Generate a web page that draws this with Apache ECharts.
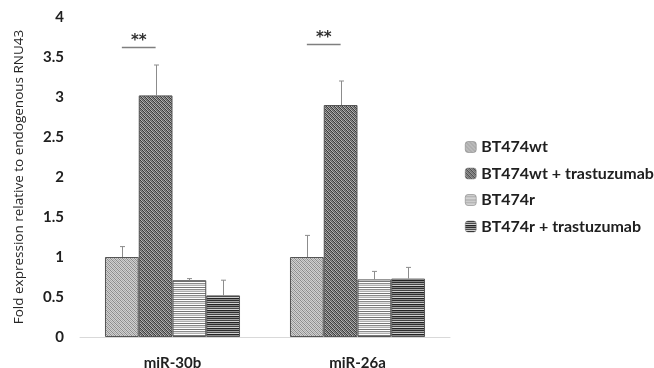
<!DOCTYPE html>
<html>
<head>
<meta charset="utf-8">
<script src="https://cdn.jsdelivr.net/npm/echarts@6/dist/echarts.min.js"></script>
<style>html,body{margin:0;padding:0;background:#fff}#c{width:654px;height:368px}</style>
</head>
<body>
<div id="c"></div>
<script>
const categories = ['miR-30b', 'miR-26a'];
const seriesNames = ['BT474wt', 'BT474wt + trastuzumab', 'BT474r', 'BT474r + trastuzumab'];
const means = [
  [1.00, 1.00],
  [3.02, 2.90],
  [0.71, 0.72],
  [0.52, 0.73]
];
const errors = [
  [0.13, 0.27],
  [0.38, 0.30],
  [0.02, 0.10],
  [0.19, 0.14]
];
const yTicks = [0, 0.5, 1, 1.5, 2, 2.5, 3, 3.5, 4];
const sigMarks = [
  { cat: 0, from: 0, to: 1, y: 3.63, text: '**' },
  { cat: 1, from: 0, to: 1, y: 3.66, text: '**' }
];

function makePattern(w, h, draw) {
  const c = document.createElement('canvas');
  c.width = w; c.height = h;
  const ctx = c.getContext('2d');
  draw(ctx);
  return { image: c, repeat: 'repeat' };
}
const patterns = [
  makePattern(4, 4, ctx => {
    ctx.fillStyle = '#d0d0d0'; ctx.fillRect(0, 0, 4, 4);
    ctx.fillStyle = '#8a8a8a';
    for (let i = 0; i < 4; i++) ctx.fillRect(i, i, 1, 1);
    ctx.fillStyle = '#a8a8a8';
    for (let i = 0; i < 4; i++) ctx.fillRect((i + 2) % 4, i, 1, 1);
  }),
  makePattern(4, 4, ctx => {
    ctx.fillStyle = '#8e8e8e'; ctx.fillRect(0, 0, 4, 4);
    ctx.fillStyle = '#3a3a3a';
    for (let i = 0; i < 4; i++) ctx.fillRect(i, i, 1, 1);
    ctx.fillStyle = '#5e5e5e';
    for (let i = 0; i < 4; i++) ctx.fillRect((i + 2) % 4, i, 1, 1);
    ctx.fillStyle = '#b5b5b5';
    for (let i = 0; i < 4; i++) ctx.fillRect((i + 1) % 4, i, 1, 1);
  }),
  makePattern(4, 6, ctx => {
    const rows = ['#ffffff', '#8c8c8c', '#e0e0e0', '#b0b0b0', '#ffffff', '#777777'];
    rows.forEach((col, i) => { ctx.fillStyle = col; ctx.fillRect(0, i, 4, 1); });
  }),
  makePattern(4, 6, ctx => {
    const rows = ['#2e2e2e', '#a8a8a8', '#444444', '#d0d0d0', '#222222', '#8a8a8a'];
    rows.forEach((col, i) => { ctx.fillStyle = col; ctx.fillRect(0, i, 4, 1); });
  })
];

const GAP = 0.27;
function barGeom(api, cat, s) {
  const band = api.size([1, 0])[0];
  const bw = band * (1 - GAP) / 4;
  const center = api.coord([cat, 0])[0];
  return center + (s - 1.5) * bw;
}

const errData = [];
means.forEach((arr, s) => arr.forEach((v, c) => errData.push([c, s, v, errors[s][c]])));

const barSeries = seriesNames.map((name, s) => ({
  name: name,
  type: 'bar',
  data: means[s],
  barGap: '0%',
  barCategoryGap: (GAP * 100) + '%',
  itemStyle: { color: patterns[s], borderColor: '#555555', borderWidth: 1 },
  emphasis: { disabled: true }
}));

const option = {
  animation: false,
  textStyle: { fontFamily: 'Lato, "Liberation Sans", sans-serif' },
  grid: { left: 80, right: 204, top: 17, bottom: 31, containLabel: false, outerBoundsMode: 'none' },
  legend: {
    orient: 'vertical',
    left: 460,
    top: 134,
    itemWidth: 11,
    itemHeight: 11,
    itemGap: 10.5,
    data: seriesNames,
    textStyle: { fontSize: 16, fontWeight: 'bold', color: '#202020', fontFamily: 'Lato, sans-serif' },
    itemStyle: { borderColor: '#777', borderWidth: 0.5 }
  },
  xAxis: {
    type: 'category',
    data: categories,
    axisLine: { lineStyle: { color: '#d9d9d9', width: 1 } },
    axisTick: { show: false },
    axisLabel: { fontSize: 15, fontWeight: 'bold', color: '#202020', margin: 19, fontFamily: 'Lato, sans-serif' }
  },
  yAxis: {
    type: 'value',
    min: yTicks[0],
    max: yTicks[yTicks.length - 1],
    interval: 0.5,
    name: 'Fold expression relative to endogenous RNU43',
    nameLocation: 'middle',
    nameGap: 54,
    nameMoveOverlap: false,
    nameTextStyle: { fontSize: 13.5, color: '#262626', fontFamily: '"Open Sans", Lato, sans-serif' },
    axisLine: { show: false },
    axisTick: { show: false },
    splitLine: { show: false },
    axisLabel: { fontSize: 15, fontWeight: 'bold', color: '#202020', margin: 16, fontFamily: 'Lato, sans-serif' }
  },
  series: barSeries.concat([
    {
      type: 'custom',
      name: 'errors',
      data: errData,
      z: 5,
      silent: true,
      renderItem: function (params, api) {
        const cat = api.value(0), s = api.value(1), v = api.value(2), e = api.value(3);
        const x = Math.round(barGeom(api, cat, s)) + 0.5;
        const y0 = api.coord([cat, v])[1];
        const y1 = api.coord([cat, v + e])[1];
        const style = { stroke: '#8c8c8c', lineWidth: 1 };
        return {
          type: 'group',
          children: [
            { type: 'line', shape: { x1: x, y1: y0, x2: x, y2: y1 }, style: style },
            { type: 'line', shape: { x1: x - 2.5, y1: y1, x2: x + 2.5, y2: y1 }, style: style }
          ]
        };
      }
    },
    {
      type: 'custom',
      name: 'sig',
      data: sigMarks.map(m => [m.cat, m.from, m.to, m.y]),
      z: 5,
      silent: true,
      renderItem: function (params, api) {
        const cat = api.value(0), f = api.value(1), t = api.value(2), yv = api.value(3);
        const x1 = barGeom(api, cat, f), x2 = barGeom(api, cat, t);
        const y = Math.round(api.coord([cat, yv])[1]) + 0.5;
        return {
          type: 'group',
          children: [
            { type: 'line', shape: { x1: x1, y1: y, x2: x2, y2: y }, style: { stroke: '#7f7f7f', lineWidth: 1.5 } },
            { type: 'text', style: { x: (x1 + x2) / 2, y: y + 1, text: sigMarks[params.dataIndex].text, align: 'center', verticalAlign: 'bottom', font: 'bold 15px "DejaVu Sans", sans-serif', fill: '#303030' } }
          ]
        };
      }
    }
  ])
};

const chart = echarts.init(document.getElementById('c'), null, { renderer: 'canvas' });
chart.setOption(option);
</script>
</body>
</html>
